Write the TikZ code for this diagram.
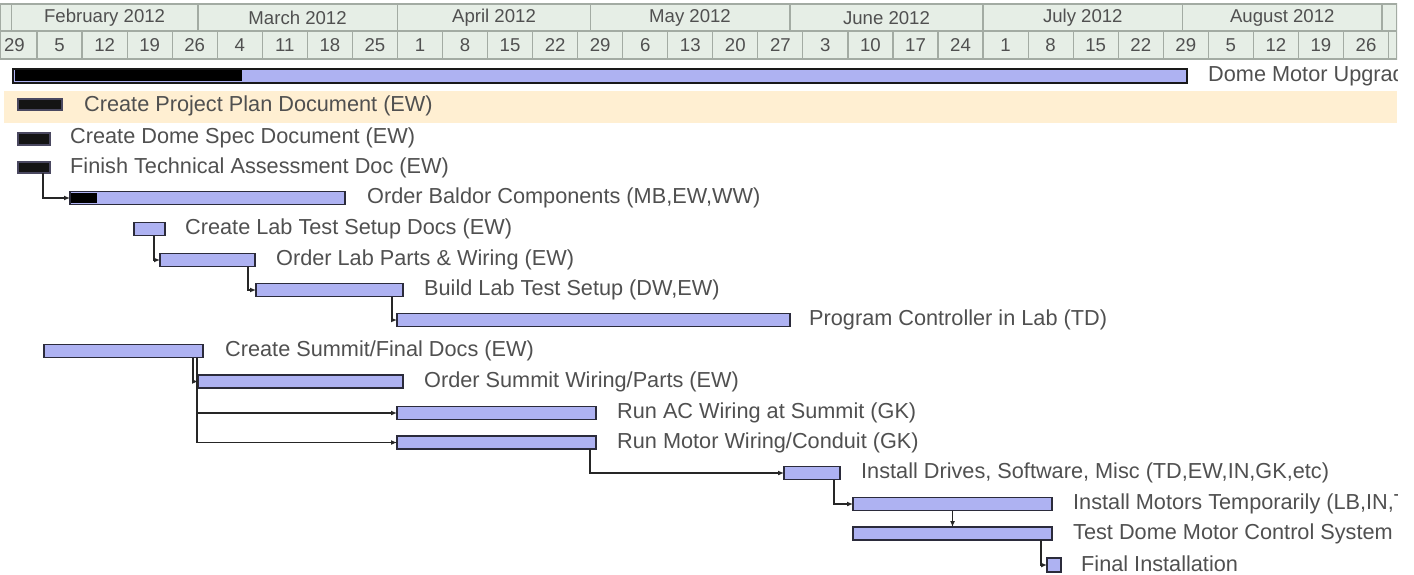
\documentclass[tikz,border=0pt]{standalone}
\usepackage{fontspec}
\setmainfont{Liberation Sans}
\usetikzlibrary{calc,positioning,arrows.meta}

\definecolor{hdrfill}{HTML}{E6EEE6}
\definecolor{hdrline}{HTML}{A3ABA3}
\definecolor{rowhl}{HTML}{FFEFD2}
\definecolor{barfill}{HTML}{AEB2F2}
\definecolor{barline}{HTML}{2B2B3B}
\definecolor{doneline}{HTML}{4A4860}
\definecolor{txtgray}{HTML}{505050}

\begin{document}
\begin{tikzpicture}[
      x=1pt, y=-1pt,
      >={Latex[length=6pt,width=5pt]},
      Bar/.style={draw=barline, fill=barfill, line width=1.3pt,
        minimum height=13pt, inner sep=0pt, outer sep=0pt},
      DoneBar/.style={Bar, fill=black!92, draw=doneline},
      Label/.style={inner sep=0pt, text=txtgray, font=\fontsize{21.7}{25}\selectfont},
      Head/.style={inner sep=0pt, text=txtgray, font=\fontsize{18.6}{22}\selectfont},
      Dep/.style={->, line width=1.2pt, draw=black!85},
      ]
      \useasboundingbox (0,0) rectangle (1414,575);
      \fill[white] (0,0) rectangle (1414,575);
      \clip (0,0) rectangle (1397,575);

      % time scale
      \fill[hdrfill] (0,4) rectangle (1397,59);
      \draw[hdrline, line width=1.2pt] (0,4) rectangle (1397,59) (0,31) -- (1397,31);
      \foreach \mx in {11.3,197.9,397.4,590.5,790,983,1182.6,1382}
        \draw[hdrline, line width=1.2pt] (\mx,4) -- (\mx,31);
      \foreach \i in {1,...,31}
        \draw[hdrline, line width=1.2pt] ({-8.05+45.05*\i},31) -- ++(0,28);

      \node[Head] (feb) at (104.6,18) {February 2012};
      \node[Head] (mar) at (297.6,18) {March 2012};
      \node[Head] (apr) at (494,18) {April 2012};
      \node[Head] (may) at (690,18) {May 2012};
      \node[Head] (jun) at (886.5,18) {June 2012};
      \node[Head] (jul) at (1082.8,18) {July 2012};
      \node[Head] (aug) at (1282.3,18) {August 2012};
      \foreach \d [count=\i from 0] in {29,5,12,19,26,4,11,18,25,1,8,15,22,29,6,13,20,27,3,10,17,24,1,8,15,22,29,5,12,19,26}
        \node[Head] (wk\i) at ({14.5+45.05*\i},45.5) {\d};

      % selected row
      \fill[rowhl] (4,91) rectangle (1397,123);

      % tasks
      \node[Bar, minimum width=1174pt, minimum height=14pt, line width=2.4pt, draw=black!90] (dmu) at (600,76) {};
      \fill[black] ($(dmu.south west)+(1.5,-1.5)$) rectangle ($(dmu.north west)+(229,1.5)$);
      \node[Label, right=21pt of dmu] (dmu-t) {Dome Motor Upgrade};

      \node[DoneBar, minimum width=44pt, minimum height=11pt] (cppd) at (40,104.5) {};
      \node[Label, right=22pt of cppd, yshift=-1pt] (cppd-t) {Create Project Plan Document (EW)};

      \node[DoneBar, minimum width=32pt, minimum height=12pt] (cdsd) at (34,139) {};
      \node[Label, right=20pt of cdsd, yshift=1.5pt] (cdsd-t) {Create Dome Spec Document (EW)};

      \node[DoneBar, minimum width=32pt, minimum height=11pt] (ftad) at (34,167.5) {};
      \node[Label, right=20pt of ftad] (ftad-t) {Finish Technical Assessment Doc (EW)};

      \node[Bar, minimum width=275pt] (obc) at (207.5,198) {};
      \fill[black] ($(obc.south west)+(1,-1.5)$) rectangle ($(obc.north west)+(27,1.5)$);
      \node[Label, right=22pt of obc] (obc-t) {Order Baldor Components (MB,EW,WW)};

      \node[Bar, minimum width=31pt] (clts) at (149.5,229) {};
      \node[Label, right=20pt of clts] (clts-t) {Create Lab Test Setup Docs (EW)};

      \node[Bar, minimum width=95pt] (olp) at (207.5,260) {};
      \node[Label, right=21pt of olp] (olp-t) {Order Lab Parts \& Wiring (EW)};

      \node[Bar, minimum width=147pt] (blts) at (329.5,290) {};
      \node[Label, right=21pt of blts] (blts-t) {Build Lab Test Setup (DW,EW)};

      \node[Bar, minimum width=393pt] (pcl) at (593.5,320) {};
      \node[Label, right=19pt of pcl] (pcl-t) {Program Controller in Lab (TD)};

      \node[Bar, minimum width=159pt] (csfd) at (123.5,351) {};
      \node[Label, right=22pt of csfd] (csfd-t) {Create Summit/Final Docs (EW)};

      \node[Bar, minimum width=205pt] (osw) at (300.5,381.5) {};
      \node[Label, right=21pt of osw] (osw-t) {Order Summit Wiring/Parts (EW)};

      \node[Bar, minimum width=199pt] (racw) at (496.5,413) {};
      \node[Label, right=21pt of racw] (racw-t) {Run AC Wiring at Summit (GK)};

      \node[Bar, minimum width=199pt] (rmwc) at (496.5,442.5) {};
      \node[Label, right=21pt of rmwc] (rmwc-t) {Run Motor Wiring/Conduit (GK)};

      \node[Bar, minimum width=56pt] (idsm) at (812,473) {};
      \node[Label, right=21pt of idsm] (idsm-t) {Install Drives, Software, Misc (TD,EW,IN,GK,etc)};

      \node[Bar, minimum width=199pt] (imt) at (952.5,504) {};
      \node[Label, right=21pt of imt] (imt-t) {Install Motors Temporarily (LB,IN,TD)};

      \node[Bar, minimum width=199pt] (tdmc) at (952.5,533.5) {};
      \node[Label, right=21pt of tdmc] (tdmc-t) {Test Dome Motor Control System};

      \node[Bar, minimum width=14pt, minimum height=14pt] (fi) at (1054,565) {};
      \node[Label, right=20pt of fi, yshift=1.5pt] (fi-t) {Final Installation};

      % links
      \draw[Dep] ($(ftad.south east)+(-7,0)$) |- (obc.west);
      \draw[Dep] ($(clts.south east)+(-11,0)$) |- (olp.west);
      \draw[Dep] ($(olp.south east)+(-7,0)$) |- (blts.west);
      \draw[Dep] ($(blts.south east)+(-11,0)$) |- (pcl.west);
      \draw[Dep] ($(csfd.south east)+(-10,0)$) |- (osw.west);
      \draw[Dep] ($(csfd.south east)+(-6,0)$) |- (racw.west);
      \draw[Dep] ($(csfd.south east)+(-6,0)$) |- (rmwc.west);
      \draw[Dep] ($(rmwc.south east)+(-6,0)$) |- (idsm.west);
      \draw[Dep] ($(idsm.south east)+(-6,0)$) |- (imt.west);
      \draw[Dep] (imt.south) -- (tdmc.north);
      \draw[Dep] ($(tdmc.south east)+(-11,0)$) |- (fi.west);
    \end{tikzpicture}
\end{document}
